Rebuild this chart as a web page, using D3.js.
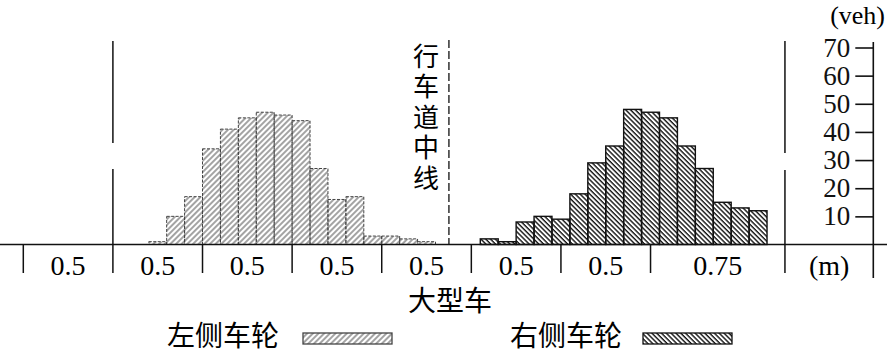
<!DOCTYPE html>
<html>
<head>
<meta charset="utf-8">
<script src="https://cdn.jsdelivr.net/npm/d3@7"></script>
<style>
  body { margin: 0; background: #fff; }
  svg { display: block; }
</style>
</head>
<body>
<div id="chart"></div>
<script>
// counts per 0.1 m bin (veh)
const leftStart = 0.7;
const leftWheel = [1, 10, 17, 34, 41, 45, 47, 46, 44, 27, 16, 17, 3, 3, 2, 1];
const rightStart = 2.55;
const rightWheel = [2, 1, 8, 10, 9, 18, 29, 35, 48, 47, 45, 35, 27, 15, 13, 12];
const binWidth = 0.1;

// lateral segments below the axis
const segmentEdges = [0, 0.5, 1, 1.5, 2, 2.5, 3, 3.5, 4.25];
const segmentLabels = ['0.5', '0.5', '0.5', '0.5', '0.5', '0.5', '0.5', '0.75'];
const yTicks = [10, 20, 30, 40, 50, 60, 70];
const laneCenter = 2.375;
const axisPos = 4.743;

const W = 887, H = 353;
const serif = '"Liberation Serif", "Times New Roman", serif';
const cjk = '"Noto Sans CJK SC", sans-serif';

const svg = d3.select('#chart').append('svg')
  .attr('width', W)
  .attr('height', H);

const x = d3.scaleLinear().domain([0, axisPos]).range([23.3, 873.3]);
const y = d3.scaleLinear().domain([0, 70]).range([244.5, 47.5]);
const base = y(0);

// hatch patterns
const defs = svg.append('defs');
defs.append('pattern')
  .attr('id', 'hatchL')
  .attr('patternUnits', 'userSpaceOnUse')
  .attr('width', 4).attr('height', 4)
  .attr('patternTransform', 'rotate(45)')
  .append('line')
  .attr('x1', 1).attr('y1', 0).attr('x2', 1).attr('y2', 4)
  .attr('stroke', '#666').attr('stroke-width', 1.2);
defs.append('pattern')
  .attr('id', 'hatchR')
  .attr('patternUnits', 'userSpaceOnUse')
  .attr('width', 3.4).attr('height', 3.4)
  .attr('patternTransform', 'rotate(-45)')
  .append('line')
  .attr('x1', 1).attr('y1', 0).attr('x2', 1).attr('y2', 3.4)
  .attr('stroke', '#111').attr('stroke-width', 1.4);

// bars
const leftData = leftWheel.map((v, i) => ({ x0: leftStart + i * binWidth, v }));
const rightData = rightWheel.map((v, i) => ({ x0: rightStart + i * binWidth, v }));

svg.append('g').selectAll('rect')
  .data(leftData)
  .join('rect')
  .attr('x', d => x(d.x0))
  .attr('y', d => y(d.v))
  .attr('width', d => x(d.x0 + binWidth) - x(d.x0))
  .attr('height', d => base - y(d.v))
  .attr('fill', 'url(#hatchL)')
  .attr('stroke', '#444')
  .attr('stroke-width', 1)
  .attr('stroke-dasharray', '3,1.5');

svg.append('g').selectAll('rect')
  .data(rightData)
  .join('rect')
  .attr('x', d => x(d.x0))
  .attr('y', d => y(d.v))
  .attr('width', d => x(d.x0 + binWidth) - x(d.x0))
  .attr('height', d => base - y(d.v))
  .attr('fill', 'url(#hatchR)')
  .attr('stroke', '#111')
  .attr('stroke-width', 1.4);

// baseline
svg.append('line')
  .attr('x1', 0).attr('x2', W)
  .attr('y1', base).attr('y2', base)
  .attr('stroke', '#111').attr('stroke-width', 1.6);

// segment separators and labels
svg.append('g').selectAll('line')
  .data(segmentEdges)
  .join('line')
  .attr('x1', d => x(d)).attr('x2', d => x(d))
  .attr('y1', base).attr('y2', 273)
  .attr('stroke', '#111').attr('stroke-width', 1.5);

svg.append('g').selectAll('text')
  .data(segmentLabels)
  .join('text')
  .attr('x', (d, i) => (x(segmentEdges[i]) + x(segmentEdges[i + 1])) / 2)
  .attr('y', 275)
  .attr('text-anchor', 'middle')
  .attr('font-family', serif)
  .attr('font-size', 28)
  .text(d => d);

svg.append('text')
  .attr('x', (x(segmentEdges[segmentEdges.length - 1]) + x(axisPos)) / 2)
  .attr('y', 275)
  .attr('text-anchor', 'middle')
  .attr('font-family', serif)
  .attr('font-size', 28)
  .text('(m)');

// tall marker lines at the outer segment edges (broken near mid-height)
[[0.5, 143, 169], [4.25, 153, 170]].forEach(([p, gapTop, gapBottom]) => {
  svg.append('line')
    .attr('x1', x(p)).attr('x2', x(p))
    .attr('y1', 41).attr('y2', gapTop)
    .attr('stroke', '#111').attr('stroke-width', 1.5);
  svg.append('line')
    .attr('x1', x(p)).attr('x2', x(p))
    .attr('y1', gapBottom).attr('y2', base)
    .attr('stroke', '#111').attr('stroke-width', 1.5);
});

// lane centre line
svg.append('line')
  .attr('x1', x(laneCenter)).attr('x2', x(laneCenter))
  .attr('y1', 40).attr('y2', base)
  .attr('stroke', '#111').attr('stroke-width', 1.3)
  .attr('stroke-dasharray', '8,3');

// vertical label, one text element written top to bottom
svg.append('text')
  .attr('x', 426)
  .attr('y', 43)
  .style('writing-mode', 'vertical-rl')
  .attr('letter-spacing', 4.5)
  .attr('font-family', cjk)
  .attr('font-size', 26)
  .text('行车道中线');

// y axis on the right
svg.append('line')
  .attr('x1', x(axisPos)).attr('x2', x(axisPos))
  .attr('y1', 42).attr('y2', 278)
  .attr('stroke', '#111').attr('stroke-width', 1.6);

const yAxis = svg.append('g')
  .attr('transform', `translate(${x(axisPos)},0)`)
  .call(d3.axisLeft(y).tickValues(yTicks).tickSize(18).tickPadding(5));
yAxis.select('.domain').remove();
yAxis.selectAll('line').attr('stroke', '#111').attr('stroke-width', 1.6);
yAxis.selectAll('text')
  .attr('font-family', serif)
  .attr('font-size', 27)
  .attr('fill', '#111');

svg.append('text')
  .attr('x', 885).attr('y', 24)
  .attr('text-anchor', 'end')
  .attr('font-family', serif)
  .attr('font-size', 26)
  .text('(veh)');

// title and legend
svg.append('text')
  .attr('x', 450).attr('y', 311)
  .attr('text-anchor', 'middle')
  .attr('font-family', cjk)
  .attr('font-size', 28)
  .text('大型车');

const legend = [
  { label: '左侧车轮', tx: 167, sx: 303, fill: 'url(#hatchL)', stroke: '#444' },
  { label: '右侧车轮', tx: 510, sx: 643, fill: 'url(#hatchR)', stroke: '#111' }
];
legend.forEach(l => {
  svg.append('text')
    .attr('x', l.tx).attr('y', 346)
    .attr('font-family', cjk)
    .attr('font-size', 28)
    .text(l.label);
  svg.append('rect')
    .attr('x', l.sx).attr('y', 333)
    .attr('width', 89).attr('height', 11)
    .attr('fill', l.fill)
    .attr('stroke', l.stroke)
    .attr('stroke-width', 1.3);
});
</script>
</body>
</html>
